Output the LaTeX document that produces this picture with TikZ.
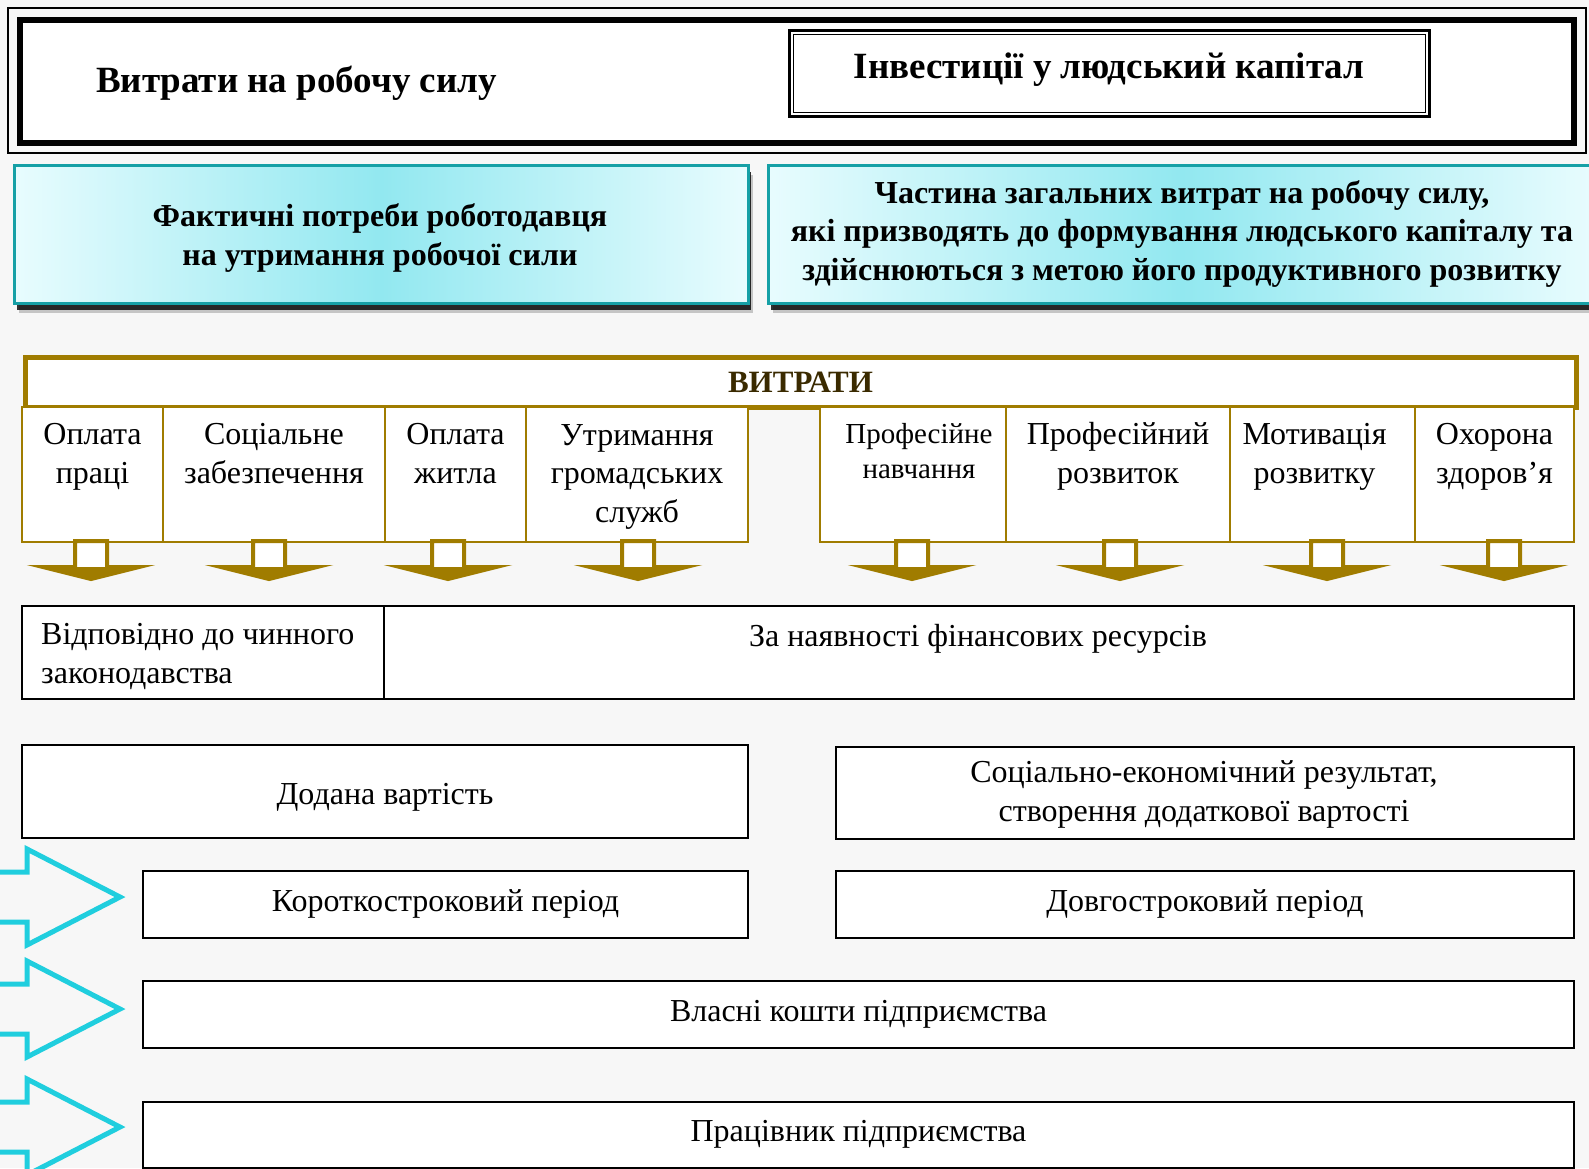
\documentclass[tikz,border=0pt]{standalone}
\usepackage{fontspec}
\setmainfont{Liberation Serif}
\usetikzlibrary{positioning,shadows}

\definecolor{goldline}{RGB}{160,124,0}
\definecolor{goldtext}{RGB}{58,42,0}
\definecolor{tealline}{RGB}{22,160,166}
\definecolor{cyanmid}{RGB}{146,232,240}
\definecolor{cyanedge}{RGB}{232,252,254}
\definecolor{cyanarrow}{RGB}{32,206,222}
\definecolor{paper}{RGB}{247,247,247}

\tikzset{
  celltxt/.style={font=\fontsize{32}{38.5}\selectfont, align=center, inner sep=0pt},
  headtxt/.style={font=\fontsize{32}{38.5}\selectfont\bfseries, align=center, inner sep=0pt},
  plainbox/.style={draw=black, line width=2pt, fill=white, inner sep=0pt,
    font=\fontsize{32}{38}\selectfont, text height=13pt, text depth=0pt},
  goldcell/.style={draw=goldline, line width=2pt, fill=white, inner sep=0pt},
  infobox/.style={draw=tealline, line width=2.5pt, inner sep=0pt,
    left color=cyanedge, right color=cyanedge, middle color=cyanmid,
    drop shadow={shadow xshift=5pt, shadow yshift=-10pt, opacity=.2, fill=black},
    drop shadow={shadow xshift=3pt, shadow yshift=-7pt, opacity=.8, fill=black}},
  downarrow/.pic={
    \filldraw[draw=goldline, fill=white, line width=4pt, line join=miter]
      (-16,-2) -- (-16,24) -- (-48,24) -- (0,36) -- (48,24) -- (16,24) -- (16,-2) -- cycle;
    \fill[goldline] (-48,24) -- (0,36) -- (48,24) -- cycle;
  },
  sidearrow/.pic={
    \draw[cyanarrow, line width=5pt, line join=miter]
      (-135,-25) -- (-93,-25) -- (-93,-48) -- (0,0) -- (-93,48) -- (-93,25) -- (-135,25);
  },
}

\begin{document}
\begin{tikzpicture}[x=1pt, y=-1pt]
    % Page and background
    \useasboundingbox (0,0) rectangle (1589,1168);
    \fill[paper] (0,0) rectangle (1589,1168);

    % Header frame
    \node[draw=black, line width=6pt, fill=white, anchor=north west,
          minimum width=1554.5pt, minimum height=123.5pt] (header) at (16.5,16.5) {};
    \draw[line width=1.5pt] ([shift={(-8.5,-8.5)}]header.north west) rectangle ([shift={(9,7)}]header.south east);
    \node[font=\fontsize{37}{44}\selectfont\bfseries, inner sep=0pt, anchor=base west] (labourcost) at (96,92) {Витрати на робочу силу};
    \node[draw=black, line width=3pt, fill=white, minimum width=640pt, minimum height=86pt, inner sep=0pt,
          font=\fontsize{37}{44}\selectfont\bfseries, text height=18pt, text depth=8pt] (invest) at (1109,73) {Інвестиції у людський капітал};
    \draw[line width=1pt] ([shift={(5.5,5.5)}]invest.north west) rectangle ([shift={(-5.5,-5.5)}]invest.south east);

    % Two explanation boxes
    \node[infobox, anchor=north west, minimum width=734pt, minimum height=138pt] (needs) at (13,164) {};
    \node[headtxt, anchor=base] (needstxt) at (380,265) {Фактичні потреби роботодавця\\на утримання робочої сили};
    \node[infobox, anchor=north west, minimum width=828pt, minimum height=138pt] (share) at (767,164) {};
    \node[headtxt, anchor=base] (sharetxt) at (1182,280) {Частина загальних витрат на робочу силу,\\які призводять до формування людського капіталу та\\здійснюються з метою його продуктивного розвитку};

    % Cost bar with items
    \node[draw=goldline, line width=5pt, fill=white, anchor=north west, minimum width=1551pt, minimum height=50pt,
          inner sep=0pt, font=\fontsize{31}{36}\selectfont\bfseries, text=goldtext] (costbar) at (22.5,354.5) {ВИТРАТИ};
    \node[goldcell, anchor=north west, minimum width=141pt, minimum height=135pt] (wages) at (21,406) {};
    \node[goldcell, anchor=north west, minimum width=222pt, minimum height=135pt] (social) at (162,406) {};
    \node[goldcell, anchor=north west, minimum width=141pt, minimum height=135pt] (housing) at (384,406) {};
    \node[goldcell, anchor=north west, minimum width=222pt, minimum height=135pt] (services) at (525,406) {};
    \node[goldcell, anchor=north west, minimum width=186pt, minimum height=135pt] (training) at (819,406) {};
    \node[goldcell, anchor=north west, minimum width=224pt, minimum height=135pt] (growth) at (1005,406) {};
    \node[goldcell, anchor=north west, minimum width=185pt, minimum height=135pt] (motivation) at (1229,406) {};
    \node[goldcell, anchor=north west, minimum width=159pt, minimum height=135pt] (health) at (1414,406) {};

    \node[celltxt, below=77pt of wages.north, anchor=base] (wagestxt) {Оплата\\праці};
    \node[celltxt, below=77pt of social.north, anchor=base] (socialtxt) {Соціальне\\забезпечення};
    \node[celltxt, below=77pt of housing.north, anchor=base] (housingtxt) {Оплата\\житла};
    \node[celltxt, below=116pt of services.north, anchor=base] (servicestxt) {Утримання\\громадських\\служб};
    \node[celltxt, font=\fontsize{29}{35}\selectfont, below=72pt of training.north, anchor=base, xshift=6pt] (trainingtxt) {Професійне\\навчання};
    \node[celltxt, below=77pt of growth.north, anchor=base] (growthtxt) {Професійний\\розвиток};
    \node[celltxt, below=77pt of motivation.north, anchor=base, xshift=-8pt] (motivationtxt) {Мотивація\\розвитку};
    \node[celltxt, below=77pt of health.north, anchor=base] (healthtxt) {Охорона\\здоров’я};

    % Down arrows under the items
    \foreach \cell/\dx in {wages/-1.5, social/-5, housing/-7.5, services/1, training/-1, growth/2, motivation/4.5, health/9.5}
        \pic at ([xshift=\dx pt]\cell.south) {downarrow};

    % Conditions
    \node[plainbox, anchor=north west, minimum width=362pt, minimum height=93pt] (law) at (21,605) {};
    \node[plainbox, anchor=north west, minimum width=1190pt, minimum height=93pt] (funds) at (383,605) {};
    \node[celltxt, align=left, anchor=base west] (lawtxt) at (41,683) {Відповідно до чинного\\законодавства};
    \node[celltxt, anchor=base] (fundstxt) at (978,646) {За наявності фінансових ресурсів};

    % Results
    \node[plainbox, anchor=north west, minimum width=726pt, minimum height=93pt, text height=26pt] (added) at (21,744) {Додана вартість};
    \node[plainbox, anchor=north west, minimum width=738pt, minimum height=92pt] (result) at (835,746) {};
    \node[celltxt, anchor=base] (resulttxt) at (1204,821) {Соціально-економічний результат,\\створення додаткової вартості};

    % Periods, sources, bearer
    \node[plainbox, anchor=north west, minimum width=605pt, minimum height=67pt] (shortterm) at (142,870) {Короткостроковий період};
    \node[plainbox, anchor=north west, minimum width=738pt, minimum height=67pt] (longterm) at (835,870) {Довгостроковий період};
    \node[plainbox, anchor=north west, minimum width=1431pt, minimum height=67pt] (ownfunds) at (142,980) {Власні кошти підприємства};
    \node[plainbox, anchor=north west, minimum width=1431pt, minimum height=66pt] (worker) at (142,1101) {Працівник підприємства};

    % Side arrows
    \pic at (120,897) {sidearrow};
    \pic at (120,1009) {sidearrow};
    \pic at (120,1127) {sidearrow};
\end{tikzpicture}
\end{document}
